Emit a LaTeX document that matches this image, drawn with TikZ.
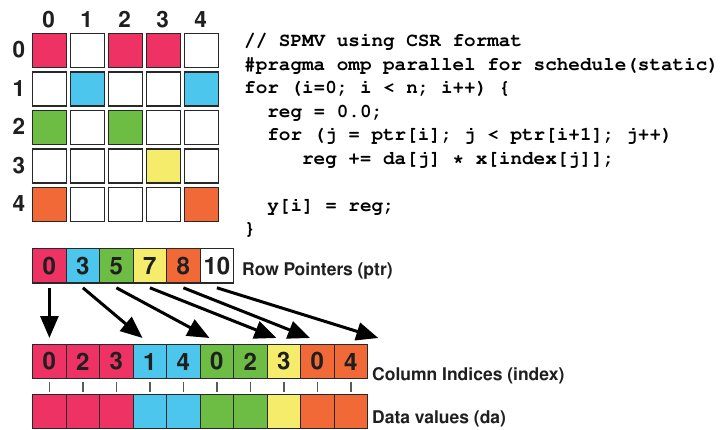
\documentclass[tikz,border=0pt]{standalone}
\usepackage[T1]{fontenc}
\usepackage{helvet}
\usepackage{courier}
\renewcommand{\familydefault}{\sfdefault}
\usetikzlibrary{arrows.meta,calc}

\definecolor{cpink}{RGB}{238,50,100}
\definecolor{cblue}{RGB}{76,198,236}
\definecolor{cgreen}{RGB}{109,189,69}
\definecolor{cyellow}{RGB}{245,236,107}
\definecolor{corange}{RGB}{242,105,56}
\definecolor{cedge}{RGB}{40,40,40}

\tikzset{
  mcell/.style={draw=cedge, line width=1.2pt, minimum width=33.5pt, minimum height=34pt,
    inner sep=0pt, anchor=north west, fill=white},
  acell/.style={draw=cedge, line width=1.3pt, minimum width=33.5pt, minimum height=34.5pt,
    inner sep=0pt, anchor=north west, fill=white,
    font=\sffamily\bfseries\fontsize{24}{24}\selectfont, text=black!88},
  axislab/.style={inner sep=0pt, font=\sffamily\bfseries\fontsize{22.5}{22.5}\selectfont, text=black!88},
  arrlab/.style={inner sep=0pt, anchor=base west, font=\sffamily\bfseries\fontsize{17.5}{17.5}\selectfont, text=black!88},
  codeline/.style={inner sep=0pt, anchor=base west, font=\ttfamily\bfseries\fontsize{19.3}{19.3}\selectfont},
  ptrarrow/.style={line width=3pt, -{Triangle[length=22pt,width=18pt]}},
  tick/.style={draw=black!65, line width=1.3pt},
}

\begin{document}
\begin{tikzpicture}[x=1pt,y=-1pt]
\useasboundingbox (0,0) rectangle (720,430);

% ---- sparse matrix ----
\foreach \r/\clist in {0/{cpink,white,cpink,cpink,white},
                       1/{white,cblue,white,white,cblue},
                       2/{cgreen,white,cgreen,white,white},
                       3/{white,white,white,cyellow,white},
                       4/{corange,white,white,white,corange}}{
  \foreach \col [count=\c from 0] in \clist {
    \node[mcell, fill=\col] (m-\r-\c) at ({32+38*\c},{33+38.5*\r}) {};
  }
}
\foreach \c in {0,...,4}{
  \node[axislab] (cl-\c) at ({48.75+38*\c},20) {\c};
}
\foreach \r in {0,...,4}{
  \node[axislab] (rl-\r) at (19,{50+38.5*\r}) {\r};
}

% ---- code ----
\node[codeline] (code1) at (244,47)    {// SPMV using CSR format};
\node[codeline] (code2) at (244,70.5)  {\#pragma omp parallel for schedule(static)};
\node[codeline] (code3) at (244,94)    {for (i=0; i \textless{} n; i++) \{};
\node[codeline] (code4) at (244,117.5) {\hphantom{00}reg = 0.0;};
\node[codeline] (code5) at (244,141)   {\hphantom{00}for (j = ptr[i]; j \textless{} ptr[i+1]; j++)};
\node[codeline] (code6) at (244,164.5) {\hphantom{00000}reg += da[j] * x[index[j]];};
\node[codeline] (code7) at (244,211.5) {\hphantom{00}y[i] = reg;};
\node[codeline] (code8) at (244,235)   {\}};

% ---- row pointers ----
\foreach \v/\col [count=\i from 0] in {0/cpink,3/cblue,5/cgreen,7/cyellow,8/corange,10/white}{
  \node[acell, fill=\col] (p-\i) at ({32+33.5*\i},248) {\v};
}
\node[arrlab] (plab) at (242,276) {Row Pointers (ptr)};

% ---- column indices ----
\foreach \v/\col [count=\i from 0] in {0/cpink,2/cpink,3/cpink,1/cblue,4/cblue,0/cgreen,2/cgreen,3/cyellow,0/corange,4/corange}{
  \node[acell, fill=\col, minimum height=34pt] (c-\i) at ({32+33.5*\i},344) {\v};
}
\node[arrlab] (clab) at (372,380) {Column Indices (index)};

% ---- data values ----
\foreach \col [count=\i from 0] in {cpink,cpink,cpink,cblue,cblue,cgreen,cgreen,cyellow,corange,corange}{
  \node[acell, fill=\col, minimum height=34pt] (d-\i) at ({32+33.5*\i},394) {};
}
\node[arrlab] (dlab) at (372,423) {Data values (da)};

% ticks joining index and value cells
\foreach \i in {0,...,9}{
  \draw[tick] ($(c-\i.south)+(0,3)$) -- ($(d-\i.north)+(0,-2)$);
}

% ---- pointer arrows ----
\coordinate (t0) at ($(c-0.north)+(0,-6)$);
\coordinate (t1) at ($(c-3.north west)+(10,-6)$);
\coordinate (t2) at ($(c-5.north west)+(10,-6)$);
\coordinate (t3) at ($(c-7.north west)+(10,-6)$);
\coordinate (t4) at ($(c-8.north west)+(10,-6)$);
\coordinate (t5) at ($(c-9.north east)+(10,-6)$);
\foreach \i in {0,...,5}{
  \draw[ptrarrow] ($(p-\i.south)+(0,4)$) -- (t\i);
}
\end{tikzpicture}
\end{document}
